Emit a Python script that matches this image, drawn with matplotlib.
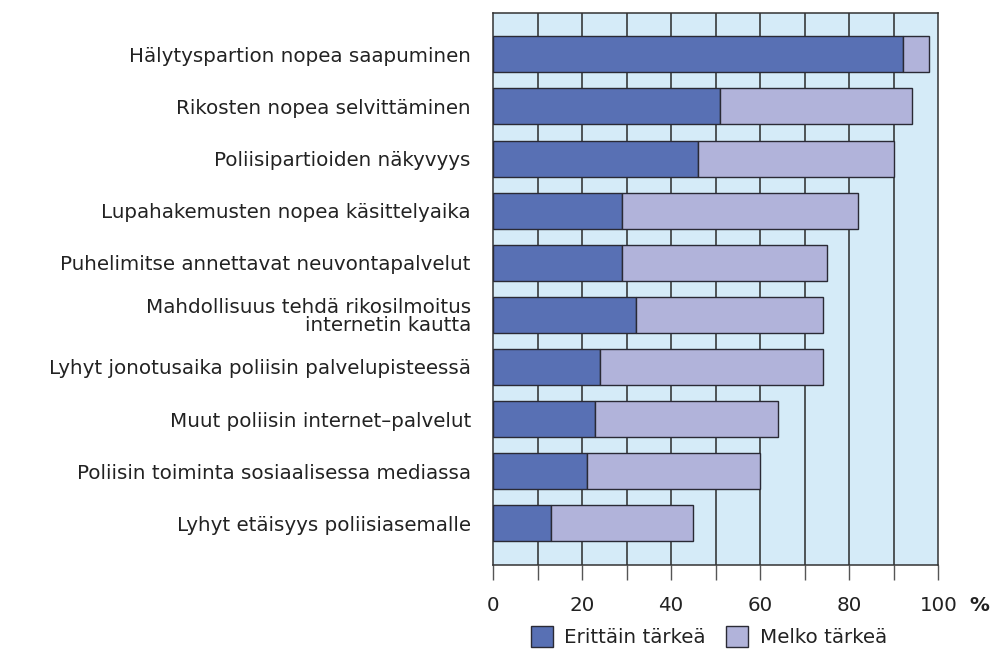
import numpy as np
import matplotlib.pyplot as plt
from matplotlib.patches import Patch

# Kategoriat ylhäältä alas
categories = [
    "Hälytyspartion nopea saapuminen",
    "Rikosten nopea selvittäminen",
    "Poliisipartioiden näkyvyys",
    "Lupahakemusten nopea käsittelyaika",
    "Puhelimitse annettavat neuvontapalvelut",
    "Mahdollisuus tehdä rikosilmoitus\ninternetin kautta",
    "Lyhyt jonotusaika poliisin palvelupisteessä",
    "Muut poliisin internet–palvelut",
    "Poliisin toiminta sosiaalisessa mediassa",
    "Lyhyt etäisyys poliisiasemalle",
]
erittain = [92, 51, 46, 29, 29, 32, 24, 23, 21, 13]
melko = [6, 43, 44, 53, 46, 42, 50, 41, 39, 32]
xticklabels = ["0", "", "20", "", "40", "", "60", "", "80", "", "100"]

dark = "#5870b4"
light = "#b1b3da"
bg = "#d5ebf8"
fs = 14.3

fig = plt.figure(figsize=(9.94, 6.5), dpi=100)
ax = fig.add_axes([0.496, 0.1308, 0.448, 0.8497])
ax.set_facecolor(bg)

y = np.arange(len(categories))
for xv in range(10, 100, 10):
    ax.axvline(xv, color="#2a2a2a", lw=1.1, zorder=1)
ax.barh(y, erittain, height=0.69, color=dark, edgecolor="#2a2a35", lw=1.0, zorder=3)
ax.barh(y, melko, left=erittain, height=0.69, color=light, edgecolor="#2a2a35", lw=1.0, zorder=3)

ax.set_xlim(0, 100)
ax.set_ylim(len(categories) - 0.2, -0.8)
ax.set_yticks(y)
ax.set_yticklabels(categories, fontsize=fs, color="#222222", linespacing=0.95)
ax.tick_params(axis="y", length=0, pad=16)
ax.set_xticks(range(0, 101, 10))
ax.set_xticklabels(xticklabels, fontsize=fs, color="#222222")
ax.tick_params(axis="x", length=11, width=1.0, color="#555555", pad=11)
for s in ax.spines.values():
    s.set_color("#333333")
    s.set_linewidth(1.1)

fig.text(0.985, 0.069, "%", fontsize=fs, fontweight="bold", color="#222222",
         ha="center", va="center")

handles = [Patch(facecolor=dark, edgecolor="#2a2a35", label="Erittäin tärkeä"),
           Patch(facecolor=light, edgecolor="#2a2a35", label="Melko tärkeä")]
fig.legend(handles=handles, loc="center", bbox_to_anchor=(0.713, 0.021), ncol=2,
           frameon=False, fontsize=fs, handlelength=1.1, handleheight=1.3,
           handletextpad=0.6, columnspacing=1.0, labelcolor="#222222",
           borderpad=0.1)

fig.savefig("out.png", dpi=100)
